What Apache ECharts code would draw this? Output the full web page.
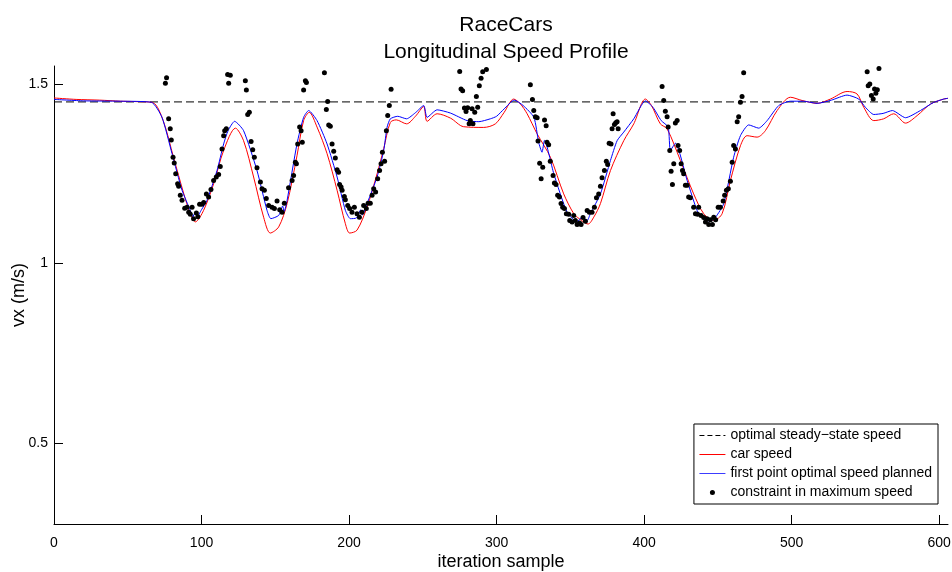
<!DOCTYPE html>
<html>
<head>
<meta charset="utf-8">
<title>RaceCars</title>
<script src="https://cdn.jsdelivr.net/npm/echarts@6/dist/echarts.min.js"></script>
<style>
  html, body { margin: 0; padding: 0; background: #fff; }
  #chart { width: 952px; height: 572px; }
</style>
</head>
<body>
<div id="chart"></div>
<script>
// valeurs : [iteration, vx]
var steadyState = [[0, 1.45], [606, 1.45]];

var carSpeed = [
  [0,1.461],[15,1.457],[31,1.455],[45,1.452],[55,1.451],[67,1.448],[74,1.398],[81,1.296],
  [88,1.194],[92.4,1.139],[95.8,1.116],[101.4,1.148],[108.2,1.222],[115,1.315],[123,1.377],
  [128.5,1.342],[135.3,1.241],[142.1,1.129],[146.6,1.085],[152.3,1.102],[158,1.167],[164.7,1.3],
  [169.2,1.398],[173,1.421],[178.3,1.38],[185.1,1.306],[191.9,1.204],[197.5,1.111],[200.4,1.085],
  [205.4,1.093],[212.2,1.157],[219,1.25],[223.5,1.32],[228,1.393],[232,1.4],[239,1.389],[245,1.41],
  [250.6,1.437],[252.9,1.396],[259.7,1.417],[268.7,1.405],[277.7,1.381],[291.3,1.379],[299.2,1.389],
  [305,1.42],[311.6,1.458],[316,1.445],[320.7,1.417],[327.5,1.361],[336.5,1.296],[345.5,1.194],
  [352.3,1.139],[356,1.125],[362,1.11],[366,1.13],[370.4,1.167],[377.2,1.259],[386.2,1.342],
  [393,1.389],[400.9,1.458],[405,1.44],[411,1.389],[415.6,1.375],[424.6,1.287],[433.6,1.194],
  [440.4,1.139],[447.2,1.12],[452.9,1.139],[458.5,1.231],[465.3,1.328],[469.8,1.356],[476.6,1.352],
  [482.2,1.37],[490.2,1.426],[499.2,1.463],[507.1,1.454],[517.3,1.446],[526.3,1.458],[537.6,1.479],
  [544.4,1.472],[548.9,1.435],[555.7,1.398],[562.4,1.403],[569.2,1.417],[577.2,1.391],[585.1,1.412],
  [594.1,1.444],[603.1,1.458],[606,1.46]
];

var plannedSpeed = [
  [0,1.457],[20,1.453],[45,1.452],[66,1.449],[73.2,1.407],[80,1.306],[86.8,1.204],[92.4,1.148],
  [94,1.13],[96,1.145],[97,1.13],[100,1.15],[103.7,1.176],[110.5,1.259],[115,1.333],[118,1.37],
  [122.4,1.396],[128.5,1.37],[137.6,1.259],[144.4,1.148],[147,1.125],[152.3,1.134],[155,1.16],
  [156,1.145],[158,1.176],[164.7,1.333],[169.2,1.407],[172.6,1.426],[178.3,1.398],[185.1,1.333],
  [191.9,1.241],[197.5,1.148],[200.9,1.125],[205,1.127],[208,1.15],[209,1.135],[212.2,1.167],
  [219,1.241],[223.5,1.315],[225.8,1.38],[228,1.403],[233,1.41],[239,1.403],[245,1.42],[250.6,1.44],
  [252.9,1.407],[259.7,1.428],[268.7,1.419],[280,1.398],[288,1.395],[295.8,1.403],[300,1.41],
  [305,1.43],[312,1.455],[318,1.44],[325.3,1.407],[328.5,1.338],[330.8,1.31],[332.5,1.343],
  [338.8,1.25],[347.8,1.143],[354.6,1.116],[358,1.13],[361.4,1.12],[363.6,1.139],[370.4,1.194],
  [377.2,1.287],[381.7,1.342],[386.2,1.366],[393,1.403],[400.9,1.453],[406,1.435],[411.6,1.398],
  [416.3,1.38],[417.8,1.315],[421.2,1.335],[429.2,1.231],[435.9,1.148],[440,1.125],[444.9,1.118],
  [448.6,1.13],[454,1.167],[460.7,1.296],[465.3,1.356],[470.9,1.386],[477.7,1.377],[483.4,1.398],
  [491.3,1.44],[499.2,1.452],[508,1.452],[517.3,1.446],[527,1.455],[537.6,1.469],[545.5,1.458],
  [550,1.435],[555.7,1.415],[562,1.418],[568.3,1.426],[577.2,1.406],[587.3,1.426],[596,1.448],
  [603.1,1.458],[606,1.46]
];

var constraintPts = [
  [75.5,1.502],[76.3,1.517],[77.7,1.403],[78.8,1.375],[79.5,1.344],[80.7,1.296],[81.5,1.28],
  [82.5,1.25],[83.8,1.222],[84.5,1.215],[85.6,1.19],[86.8,1.176],[88.6,1.154],[90.2,1.157],
  [91.3,1.143],[92.4,1.137],[93.6,1.157],[94.6,1.125],[96.5,1.141],[97.5,1.13],[98.7,1.165],
  [100.3,1.165],[101.5,1.17],[103.3,1.194],[104.8,1.185],[106.4,1.206],[108.2,1.231],[110,1.241],
  [111.6,1.248],[112.7,1.27],[113.9,1.319],[115,1.356],[115.7,1.37],[116.8,1.375],
  [117.7,1.526],[119.5,1.524],[118.4,1.502],[129.7,1.509],[130.4,1.483],[131.3,1.415],[132.4,1.421],
  [133.6,1.34],[134.7,1.317],[135.8,1.296],[137.6,1.267],[139.9,1.227],[141,1.208],[142.6,1.204],
  [143.9,1.181],[145.5,1.162],[147.8,1.157],[149.4,1.153],[151.2,1.174],[153,1.15],[154.6,1.143],
  [156.1,1.168],[159,1.211],[161.4,1.231],[162.4,1.245],[163.6,1.282],[164.3,1.278],[165.2,1.333],
  [166.5,1.38],[167.5,1.37],[168.3,1.338],[169.2,1.483],[170.4,1.509],[171.1,1.504],[183.3,1.531],
  [185.5,1.451],[184.6,1.429],[186.2,1.386],[187.3,1.382],[188.5,1.333],[189.6,1.313],[190.7,1.294],
  [191.9,1.261],[192.9,1.254],[193.6,1.22],[194.6,1.213],[195.3,1.204],[196.8,1.187],[197.5,1.178],
  [199.1,1.162],[200.4,1.153],[202,1.143],[203.6,1.157],[205.4,1.139],[207,1.129],[208.8,1.143],
  [209.9,1.162],[211.7,1.153],[212.9,1.168],[214.4,1.168],[215.6,1.19],[216.7,1.208],[218,1.199],
  [219.4,1.236],[220.7,1.259],[221.7,1.278],[222.6,1.31],[224.1,1.285],[225.3,1.37],[226.2,1.412],
  [227.3,1.44],[228.5,1.485],
  [275,1.535],[275.9,1.486],[277,1.481],[278.2,1.433],[279.3,1.423],[280.4,1.434],[281.4,1.389],
  [282.2,1.398],[284,1.389],[283.4,1.431],[285.2,1.421],[286.3,1.465],[287.2,1.435],[288.3,1.495],
  [289.5,1.516],[290.6,1.534],[293.1,1.54],
  [322.9,1.498],[324.3,1.457],[325.2,1.426],[326.3,1.409],[327.5,1.406],[328.1,1.341],[329.2,1.279],
  [330.2,1.236],[331.3,1.268],[332.5,1.4],[333.6,1.384],[334.2,1.338],[335.3,1.331],[336.4,1.285],
  [338.3,1.245],[339.2,1.224],[340.3,1.22],[341.4,1.19],[342.6,1.185],[343.7,1.167],[344.8,1.157],
  [346,1.153],[347.3,1.139],[348.9,1.137],[349.6,1.12],[351.2,1.116],[352.3,1.134],[353.4,1.12],
  [354.6,1.109],[356.3,1.113],[357.3,1.109],[358.6,1.128],[360.2,1.118],[361.4,1.148],[362.9,1.143],
  [364.7,1.143],[366.3,1.157],[367.7,1.183],[369.2,1.194],[370.4,1.215],[371.5,1.239],[373.1,1.259],
  [374.4,1.285],[375.3,1.276],[376.3,1.335],[377.6,1.333],[378.3,1.375],[379,1.417],[379.9,1.387],
  [380.8,1.392],[381.7,1.395],[382.4,1.375],
  [412.2,1.493],[413.3,1.454],[414.4,1.424],[415.6,1.409],[416.3,1.38],[417.4,1.315],[418.3,1.257],
  [419.2,1.22],[420.1,1.278],[421.2,1.391],[422.4,1.398],[423,1.329],[424.1,1.315],[425.1,1.278],
  [426,1.259],[426.8,1.25],[428,1.218],[429.2,1.218],[430.2,1.185],[431.4,1.183],[433.6,1.157],
  [434.8,1.139],[436.3,1.137],[437,1.157],[438.6,1.134],[440.4,1.128],[441.6,1.116],[442.7,1.125],
  [443.8,1.109],[444.9,1.122],[446.3,1.109],[447.2,1.129],[448.5,1.122],[450.2,1.157],[451.7,1.157],
  [453.6,1.174],[454.6,1.19],[455.8,1.204],[457.1,1.208],[458.5,1.229],[459.7,1.282],[460.7,1.329],
  [461.9,1.319],[463.1,1.395],[464.1,1.409],[465.3,1.449],[466.4,1.465],[467.5,1.531],
  [551.2,1.534],[551.9,1.495],[553,1.5],[554.1,1.468],[555.3,1.458],[556.2,1.486],[557.1,1.474],
  [558.1,1.484],[559.2,1.543]
];

var xTicks = [0, 100, 200, 300, 400, 500, 600];
var yTicks = [0.5, 1, 1.5];

var fontFam = "'Liberation Sans', Arial, Helvetica, sans-serif";
var myChart = echarts.init(document.getElementById('chart'));

var option = {
  backgroundColor: '#fff',
  animation: false,
  textStyle: { fontFamily: fontFam, color: '#000' },
  title: {
    text: 'RaceCars\nLongitudinal Speed Profile',
    left: 501,
    top: 7,
    textAlign: 'center',
    textStyle: {
      fontFamily: fontFam,
      fontWeight: 'normal',
      fontSize: 21,
      lineHeight: 27,
      color: '#000'
    }
  },
  grid: {
    left: 54,
    right: 4,
    top: 66,
    bottom: 48,
    containLabel: false,
    outerBoundsMode: 'none'
  },
  legend: {
    orient: 'vertical',
    right: 14,
    top: 424,
    padding: [4, 6, 4, 5],
    itemWidth: 26,
    itemHeight: 5,
    itemGap: 4,
    backgroundColor: '#fff',
    borderColor: '#000',
    borderWidth: 1,
    borderRadius: 0,
    lineStyle: { width: 1 },
    textStyle: { fontFamily: fontFam, fontSize: 14, lineHeight: 15, color: '#000' },
    data: [
      { name: 'optimal steady\u2212state speed', itemStyle: { opacity: 0 },
        lineStyle: { color: '#000', width: 1, type: [5, 3] } },
      { name: 'car speed', itemStyle: { opacity: 0 },
        lineStyle: { color: '#ff0000', width: 1 } },
      { name: 'first point optimal speed planned', itemStyle: { opacity: 0 },
        lineStyle: { color: '#3c3cff', width: 1 } },
      { name: 'constraint in maximum speed', icon: 'circle' }
    ]
  },
  xAxis: {
    type: 'value',
    min: 0,
    max: 606,
    name: 'iteration sample',
    nameLocation: 'middle',
    nameGap: 29,
    nameMoveOverlap: false,
    nameTextStyle: { fontFamily: fontFam, fontSize: 18, color: '#000' },
    axisLine: { lineStyle: { color: '#000', width: 1 } },
    axisTick: { inside: true, length: 9, customValues: xTicks, lineStyle: { color: '#000' } },
    axisLabel: { customValues: xTicks, margin: 12, fontSize: 14, color: '#000', fontFamily: fontFam },
    splitLine: { show: false }
  },
  yAxis: {
    type: 'value',
    min: 0.275,
    max: 1.55,
    name: 'vx (m/s)',
    nameLocation: 'middle',
    nameGap: 26,
    nameMoveOverlap: false,
    nameTextStyle: { fontFamily: fontFam, fontSize: 18, color: '#000' },
    axisLine: { show: true, lineStyle: { color: '#000', width: 1 } },
    axisTick: { show: true, inside: true, length: 9, customValues: yTicks, lineStyle: { color: '#000' } },
    axisLabel: { customValues: yTicks, margin: 6, fontSize: 14, color: '#000', fontFamily: fontFam },
    splitLine: { show: false }
  },
  series: [
    {
      name: 'optimal steady\u2212state speed',
      type: 'line',
      data: steadyState,
      showSymbol: false,
      symbol: 'none',
      lineStyle: { color: '#000', width: 1, type: [8, 4] },
      itemStyle: { color: '#000' },
      z: 2
    },
    {
      name: 'car speed',
      type: 'line',
      data: carSpeed,
      showSymbol: false,
      symbol: 'none',
      smooth: 0.3,
      lineStyle: { color: '#ff0000', width: 1 },
      itemStyle: { color: '#ff0000' },
      z: 3
    },
    {
      name: 'first point optimal speed planned',
      type: 'line',
      data: plannedSpeed,
      showSymbol: false,
      symbol: 'none',
      smooth: 0.2,
      lineStyle: { color: '#0000ff', width: 1 },
      itemStyle: { color: '#0000ff' },
      z: 4
    },
    {
      name: 'constraint in maximum speed',
      type: 'scatter',
      data: constraintPts,
      symbol: 'circle',
      symbolSize: 5,
      itemStyle: { color: '#000', opacity: 1 },
      z: 5
    }
  ]
};
myChart.setOption(option);
</script>
</body>
</html>
